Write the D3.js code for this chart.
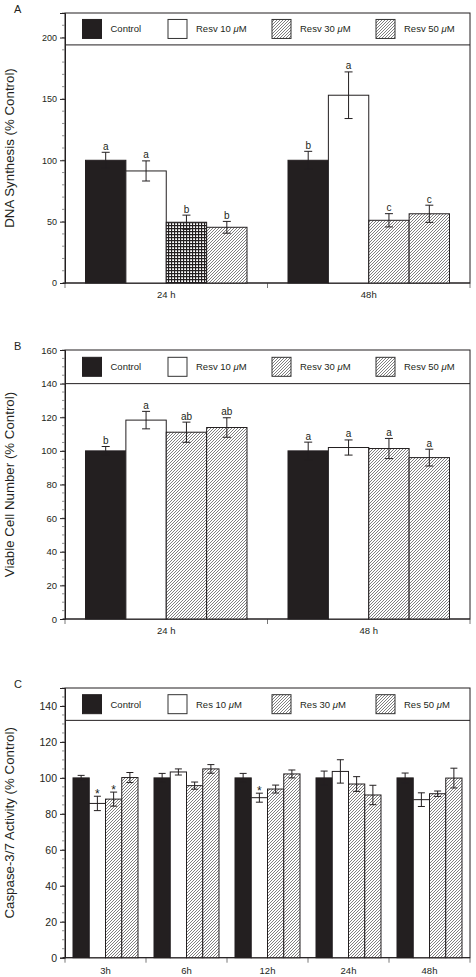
<!DOCTYPE html>
<html><head><meta charset="utf-8">
<script src="https://cdn.jsdelivr.net/npm/d3@7"></script>
<style>
body{margin:0;background:#fff}
svg{display:block}
text{font-family:"Liberation Sans",Arial,Helvetica,sans-serif;fill:#231f20}
</style>
</head><body>
<svg id="chart" width="476" height="977"></svg>
<script>
// ---------- DATA ----------
const catsA = ["24 h", "48h"];
const seriesA = ["Control", "Resv 10 μM", "Resv 30 μM", "Resv 50 μM"];
const valuesA = [[100, 91.3, 49.5, 45.4], [100, 153, 51.1, 56.4]];
const errorsA = [[6.5, 8.2, 5.8, 4.8], [7.3, 19, 5.4, 7]];
const marksA = [["a", "a", "b", "b"], ["b", "a", "c", "c"]];
const ticksA = [0, 50, 100, 150, 200];

const catsB = ["24 h", "48 h"];
const seriesB = ["Control", "Resv 10 μM", "Resv 30 μM", "Resv 50 μM"];
const valuesB = [[100, 118.3, 111.1, 113.9], [100, 102, 101.4, 96]];
const errorsB = [[2.6, 5.2, 6, 5.8], [5.2, 4.5, 6, 5]];
const marksB = [["b", "a", "ab", "ab"], ["a", "a", "a", "a"]];
const ticksB = [0, 20, 40, 60, 80, 100, 120, 140, 160];

const catsC = ["3h", "6h", "12h", "24h", "48h"];
const seriesC = ["Control", "Res 10 μM", "Res 30 μM", "Res 50 μM"];
const valuesC = [[100, 85.8, 88.2, 100.2], [100, 103.3, 95.7, 105], [100, 89, 93.8, 102.2], [100, 103.6, 96.6, 90.5], [100, 87.9, 91.2, 99.9]];
const errorsC = [[1.4, 4, 3.9, 2.8], [2.5, 1.7, 2, 2.4], [2.5, 2.5, 2.2, 2.2], [3.8, 6.5, 4.1, 5.4], [2.7, 3.8, 1.5, 5.5]];
const marksC = [["", "*", "*", ""], ["", "", "", ""], ["", "*", "", ""], ["", "", "", ""], ["", "", "", ""]];
const ticksC = [0, 20, 40, 60, 80, 100, 120, 140];

// ---------- DRAW ----------
const INK = "#231f20";
const svg = d3.select("#chart");
const defs = svg.append("defs");
const hatch = defs.append("pattern").attr("id", "hatch").attr("patternUnits", "userSpaceOnUse")
  .attr("width", 3).attr("height", 3);
hatch.append("rect").attr("width", 3).attr("height", 3).attr("fill", "#fff");
hatch.append("path").attr("d", "M-1,1 l2,-2 M0,3 l3,-3 M2,4 l2,-2")
  .attr("stroke", "#555").attr("stroke-width", 0.75);
const grid = defs.append("pattern").attr("id", "grid").attr("patternUnits", "userSpaceOnUse")
  .attr("width", 3).attr("height", 3);
grid.append("rect").attr("width", 3).attr("height", 3).attr("fill", "#fff");
grid.append("path").attr("d", "M0,0.5 H3 M0.5,0 V3").attr("stroke", INK).attr("stroke-width", 1.3);

const fills = ["solid", "open", "hatch", "hatch"];
function fillOf(kind) {
  return kind === "solid" ? INK : kind === "open" ? "#fff" : kind === "grid" ? "url(#grid)" : "url(#hatch)";
}

function panel(cfg) {
  const L = 65, R = 470;
  const g = svg.append("g");
  const y = d3.scaleLinear().domain(cfg.domain).range([cfg.bottom, cfg.top]);
  const x = d3.scaleBand().domain(cfg.cats).range([L, R]).paddingInner(0).paddingOuter(0);
  const x1 = d3.scaleBand().domain(d3.range(cfg.series.length)).range([cfg.pad, x.bandwidth() - cfg.pad]);

  // frame and legend separator
  g.append("rect").attr("x", L).attr("y", cfg.top).attr("width", R - L).attr("height", cfg.bottom - cfg.top)
    .attr("fill", "none").attr("stroke", INK).attr("stroke-width", 1);
  g.append("line").attr("x1", L).attr("x2", R).attr("y1", y(cfg.sep)).attr("y2", y(cfg.sep))
    .attr("stroke", INK).attr("stroke-width", 1);

  // minor ticks
  const minors = d3.range(cfg.domain[0], cfg.domain[1] + 0.001, cfg.minor);
  g.selectAll(".mn").data(minors).join("line")
    .attr("x1", L - 3).attr("x2", L).attr("y1", d => y(d)).attr("y2", d => y(d))
    .attr("stroke", "#777").attr("stroke-width", 0.8);
  // y axis
  const ya = g.append("g").attr("transform", `translate(${L},0)`)
    .call(d3.axisLeft(y).tickValues(cfg.ticks).tickSize(5).tickPadding(3).tickFormat(d3.format("d")));
  ya.select(".domain").attr("stroke", INK);
  ya.selectAll(".tick line").attr("stroke", INK);
  ya.selectAll("text").attr("font-size", cfg.tickFont).attr("fill", "#333")
    .style("font-family", '"Liberation Sans",Arial,sans-serif');

  // x axis boundary ticks
  const bounds = cfg.cats.map(c => x(c)).concat([R]);
  g.selectAll(".xb").data(bounds).join("line")
    .attr("x1", d => d).attr("x2", d => d).attr("y1", cfg.bottom).attr("y2", cfg.bottom + 5)
    .attr("stroke", "#555").attr("stroke-width", 0.8);
  g.append("line").attr("x1", L - 2).attr("x2", R).attr("y1", cfg.bottom).attr("y2", cfg.bottom)
    .attr("stroke", INK);
  g.selectAll(".xl").data(cfg.cats).join("text")
    .attr("x", d => x(d) + x.bandwidth() / 2).attr("y", cfg.bottom + cfg.xlabDy)
    .attr("text-anchor", "middle").attr("font-size", cfg.xFont).attr("fill", "#333").text(d => d);

  // bars
  cfg.cats.forEach((c, ci) => {
    cfg.series.forEach((s, si) => {
      const v = cfg.values[ci][si], e = cfg.errors[ci][si];
      let kind = fills[si];
      if (cfg.special && cfg.special.cat === ci && cfg.special.series === si) kind = cfg.special.fill;
      const bx = x(c) + x1(si), bw = x1.bandwidth();
      g.append("rect").attr("x", bx).attr("y", y(v)).attr("width", bw).attr("height", y(0) - y(v))
        .attr("fill", fillOf(kind)).attr("stroke", INK).attr("stroke-width", 1);
      const cx = bx + bw / 2;
      g.append("line").attr("x1", cx).attr("x2", cx).attr("y1", y(v + e)).attr("y2", y(v - e))
        .attr("stroke", INK).attr("stroke-width", 1);
      [v + e, v - e].forEach(t => g.append("line").attr("x1", cx - cfg.cap / 2).attr("x2", cx + cfg.cap / 2)
        .attr("y1", y(t)).attr("y2", y(t)).attr("stroke", INK).attr("stroke-width", 1));
      const m = cfg.marks[ci][si];
      if (m) {
        const star = m === "*";
        g.append("text").attr("x", cx).attr("y", y(v + e) + (star ? 1.5 : -2.5))
          .attr("text-anchor", "middle").attr("font-size", star ? 12 : 10).attr("fill", "#333").text(m);
      }
    });
  });

  // legend
  const ly = (y(cfg.sep) + cfg.top) / 2;
  const offs = [17.5, 103, 207, 311];
  cfg.series.forEach((s, si) => {
    const sx = L + offs[si];
    g.append("rect").attr("x", sx).attr("y", ly - 9.5).attr("width", 19).attr("height", 19)
      .attr("fill", fillOf(fills[si])).attr("stroke", si === 0 ? INK : "#333").attr("stroke-width", 1);
    const t = g.append("text").attr("x", sx + 28).attr("y", ly + 3.5).attr("font-size", 9.5).attr("fill", "#333");
    const parts = s.split("μ");
    t.append("tspan").text(parts[0]);
    if (parts.length > 1) {
      t.append("tspan").attr("font-style", "italic").text("μ");
      t.append("tspan").text(parts[1]);
    }
  });

  // y label
  g.append("text").attr("transform", `translate(14,${(cfg.top + cfg.bottom) / 2}) rotate(-90)`)
    .attr("text-anchor", "middle").attr("font-size", 13.3).attr("fill", "#333").text(cfg.ylabel);
  // panel letter
  g.append("text").attr("x", 14).attr("y", cfg.top).attr("font-size", 11).attr("fill", "#333").text(cfg.letter);
}

panel({letter: "A", cats: catsA, series: seriesA, values: valuesA, errors: errorsA, marks: marksA, ticks: ticksA,
  top: 13, bottom: 283, domain: [0, 220], sep: 194, minor: 10, pad: 20.5, cap: 8, tickFont: 9, xFont: 9.5, xlabDy: 14.5,
  ylabel: "DNA Synthesis (% Control)", special: {cat: 0, series: 2, fill: "grid"}});
panel({letter: "B", cats: catsB, series: seriesB, values: valuesB, errors: errorsB, marks: marksB, ticks: ticksB,
  top: 350, bottom: 619, domain: [0, 160], sep: 140, minor: 5, pad: 20.5, cap: 8, tickFont: 9.5, xFont: 9.5, xlabDy: 15,
  ylabel: "Viable Cell Number (% Control)"});
panel({letter: "C", cats: catsC, series: seriesC, values: valuesC, errors: errorsC, marks: marksC, ticks: ticksC,
  top: 688, bottom: 957.7, domain: [0, 150], sep: 132, minor: 5, pad: 8, cap: 7, tickFont: 10.5, xFont: 9.5, xlabDy: 16,
  ylabel: "Caspase-3/7 Activity (% Control)"});
</script>
</body></html>
